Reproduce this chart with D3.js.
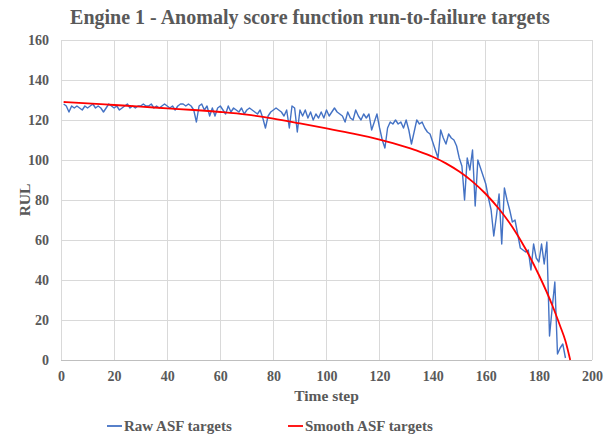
<!DOCTYPE html>
<html>
<head>
<meta charset="utf-8">
<script src="https://cdn.jsdelivr.net/npm/d3@7"></script>
<style>
  html, body { margin: 0; padding: 0; background: #ffffff; }
  svg { display: block; }
  text { font-family: "Liberation Serif", "Times New Roman", serif; font-weight: bold; fill: #595959; }
</style>
</head>
<body>
<svg id="chart" width="604" height="438"></svg>
<script>
// ---- Data ----
const title = "Engine 1 - Anomaly score function run-to-failure targets";
const xTicks = [0, 20, 40, 60, 80, 100, 120, 140, 160, 180, 200];
const yTicks = [0, 20, 40, 60, 80, 100, 120, 140, 160];
const seriesNames = ["Raw ASF targets", "Smooth ASF targets"];

// Raw ASF targets, time steps 1..190
const rawValues = [
  128,127,124,127,126,127,126,125,127,126,
  127,128,126,127,126,124,126,128,127,126,
  127,125,126,127,128,126,127,126,127,127,
  128,127,127,128,126,127,126,127,128,127,
  126,127,125,127,128,128,127,128,127,125,
  119,127,128,125,127,122,126,122,126,127,
  125,123,127,124,126,125,124,126,123,125,
  126,125,124,123,125,121,116,122,124,125,
  126,125,124,122,125,116,127,126,114,125,
  122,125,121,124,120,123,121,124,121,125,
  122,124,126,124,123,122,119,124,121,120,
  125,122,120,123,121,123,115,119,123,116,
  110,106,116,119,118,120,118,119,116,120,
  115,108,114,120,118,119,116,114,113,109,
  105,101,115,111,108,113,111,110,107,101,
  97,80,101,95,105,77,100,96,92,88,
  81,75,62,72,83,58,86,80,75,69,
  70,63,56,55,54,55,45,58,51,49,
  58,48,59,12,26,39,3,6,8,1
];
const rawSteps = rawValues.map((_, i) => i + 1);

// Smooth ASF targets, sampled points
const smoothSteps = [1,10,20,30,40,50,60,70,80,90,100,110,120,125,130,135,140,145,150,155,160,165,170,175,180,185,188,190,191.8];
const smoothValues = [129,128.3,127.5,126.7,125.8,125,124,122.7,120.7,118.3,115.8,113.2,110.2,108.4,106.4,104.2,101.6,98.3,94.2,89.2,83,75.5,66.5,55.5,42.5,27.5,17,9.5,0];

// ---- Layout ----
const svg = d3.select("#chart");
const margin = { left: 61, right: 12, top: 40, bottom: 78 };
const W = 604, H = 438;
const x = d3.scaleLinear().domain([0, 200]).range([margin.left, W - margin.right]);
const y = d3.scaleLinear().domain([0, 160]).range([H - margin.bottom, margin.top]);

// Grid
const grid = svg.append("g");
grid.selectAll("line.h").data(yTicks).enter().append("line")
  .attr("x1", x(0)).attr("x2", x(200))
  .attr("y1", d => y(d)).attr("y2", d => y(d))
  .attr("stroke", d => d === 0 ? "#bfbfbf" : "#d9d9d9").attr("stroke-width", 1)
  .attr("shape-rendering", "crispEdges");
grid.selectAll("line.v").data(xTicks).enter().append("line")
  .attr("y1", y(0)).attr("y2", y(160))
  .attr("x1", d => x(d)).attr("x2", d => x(d))
  .attr("stroke", "#d9d9d9").attr("stroke-width", 1)
  .attr("shape-rendering", "crispEdges");

// Axes (labels only)
const xAxis = d3.axisBottom(x).tickValues(xTicks).tickSize(0).tickPadding(11);
const gx = svg.append("g").attr("transform", `translate(0,${y(0)})`).call(xAxis);
gx.select(".domain").remove();
gx.selectAll("text").style("font-size", "14px").style("font-family", "Liberation Serif").style("font-weight", "bold").attr("fill", "#595959");

const yAxis = d3.axisLeft(y).tickValues(yTicks).tickSize(0).tickPadding(12);
const gy = svg.append("g").attr("transform", `translate(${x(0)},0)`).call(yAxis);
gy.select(".domain").remove();
gy.selectAll("text").style("font-size", "14px").style("font-family", "Liberation Serif").style("font-weight", "bold").attr("fill", "#595959");

// Lines
const rawLine = d3.line().x((d, i) => x(rawSteps[i])).y(d => y(d));
svg.append("path").datum(rawValues)
  .attr("d", rawLine).attr("fill", "none")
  .attr("stroke", "#4472C4").attr("stroke-width", 1.4).attr("stroke-linejoin", "round");

const smoothLine = d3.line().x((d, i) => x(smoothSteps[i])).y(d => y(d)).curve(d3.curveMonotoneX);
svg.append("path").datum(smoothValues)
  .attr("d", smoothLine).attr("fill", "none")
  .attr("stroke", "#FF0000").attr("stroke-width", 1.8);

// Title
svg.append("text").attr("x", 310).attr("y", 24).attr("text-anchor", "middle")
  .style("font-size", "20px").text(title);

// Axis titles
svg.append("text").attr("x", x(100)).attr("y", 401).attr("text-anchor", "middle")
  .style("font-size", "15.5px").text("Time step");
svg.append("text").attr("transform", `translate(30,${y(80)}) rotate(-90)`).attr("text-anchor", "middle")
  .style("font-size", "15.5px").text("RUL");

// Legend
const legend = [
  { name: seriesNames[0], color: "#4472C4", x: 107 },
  { name: seriesNames[1], color: "#FF0000", x: 288 }
];
const lg = svg.append("g");
legend.forEach(l => {
  lg.append("line").attr("x1", l.x).attr("x2", l.x + 15).attr("y1", 426).attr("y2", 426)
    .attr("stroke", l.color).attr("stroke-width", 1.8);
  lg.append("text").attr("x", l.x + 17).attr("y", 431).style("font-size", "15px").text(l.name);
});
</script>
</body>
</html>
